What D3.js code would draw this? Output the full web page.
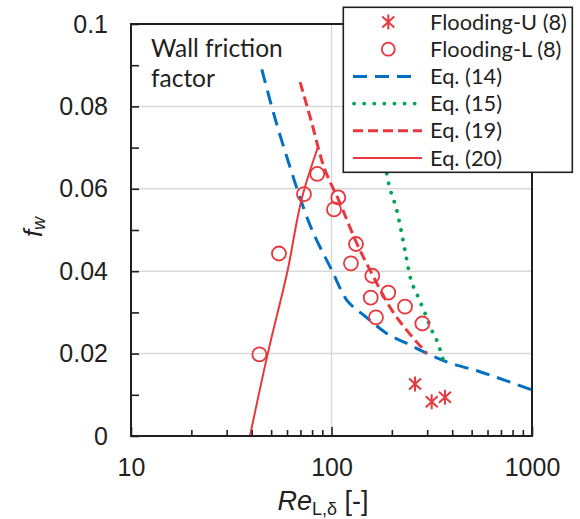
<!DOCTYPE html>
<html><head><meta charset="utf-8">
<script src="https://cdn.jsdelivr.net/npm/d3@7"></script>
<style>body{margin:0;background:#fff}svg{display:block}</style>
</head><body>
<svg id="c" width="580" height="519"></svg>
<script>
// ---- data ----
const floodU_x = [261, 316, 368];
const floodU_y = [0.0126, 0.0083, 0.0094];
const floodL_x = [43.7, 54.7, 72.9, 84.9, 108.1, 102.9, 132.5, 125.0, 159.8, 191.9, 156.9, 232.6, 166.7, 283.9];
const floodL_y = [0.0198, 0.0443, 0.0587, 0.0636, 0.0579, 0.0550, 0.0466, 0.0419, 0.0389, 0.0348, 0.0336, 0.0314, 0.0288, 0.0273];
const eq14_x = [44.9, 53.3, 59.8, 78.1, 100.2, 119.1, 126.5, 144.1, 188.5, 246.4, 310, 375.5, 550, 806.6, 1000];
const eq14_y = [0.0890, 0.0757, 0.0678, 0.0512, 0.0403, 0.0330, 0.0316, 0.0294, 0.0249, 0.0221, 0.0197, 0.0180, 0.0156, 0.0128, 0.0112];
const eq15_x = [185, 192, 211.3, 232.6, 246.4, 268, 292.6, 316, 337, 361];
const eq15_y = [0.0660, 0.0617, 0.0549, 0.0451, 0.0387, 0.0342, 0.0298, 0.0257, 0.0229, 0.0184];
const eq19_x = [69.7, 79.6, 89.3, 110.3, 133.6, 161.6, 199.6, 237.1, 298.5];
const eq19_y = [0.0859, 0.0761, 0.0670, 0.0565, 0.0468, 0.0387, 0.0306, 0.0257, 0.0201];
const eq20_x = [39.2, 48.1, 60.3, 72.3, 85.7];
const eq20_y = [0, 0.02, 0.04, 0.059, 0.0702];
const xTickLabels = [10, 100, 1000];
const yTickLabels = [0, 0.02, 0.04, 0.06, 0.08, 0.1];
const legendLabels = ["Flooding-U (8)", "Flooding-L (8)", "Eq. (14)", "Eq. (15)", "Eq. (19)", "Eq. (20)"];

// ---- layout ----
const L = 131, R = 532, T = 24, B = 436;
const RED = "#E8383D", BLUE = "#0070C0", GREEN = "#00A550", AX = "#231F20";
const svg = d3.select("#c");
const x = d3.scaleLog().domain([10, 1000]).range([L, R]);
const y = d3.scaleLinear().domain([0, 0.1]).range([B, T]);
const zip = (a, b) => a.map((v, i) => [v, b[i]]);

// grid
const g = svg.append("g");
g.selectAll("line.h").data([0.02, 0.04, 0.06, 0.08]).join("line")
  .attr("x1", L).attr("x2", R).attr("y1", d => y(d)).attr("y2", d => y(d))
  .attr("stroke", "#D9D9D9").attr("stroke-width", 1.5);
g.selectAll("line.v").data([100]).join("line")
  .attr("x1", d => x(d)).attr("x2", d => x(d)).attr("y1", T).attr("y2", B)
  .attr("stroke", "#D9D9D9").attr("stroke-width", 1.5);

// lines
const line = d3.line().x(d => x(d[0])).y(d => y(d[1])).curve(d3.curveMonotoneX);
svg.append("path").attr("d", line(zip(eq14_x, eq14_y))).attr("fill", "none")
  .attr("stroke", BLUE).attr("stroke-width", 3).attr("stroke-dasharray", "14 8");
svg.append("path").attr("d", line(zip(eq15_x, eq15_y))).attr("fill", "none")
  .attr("stroke", GREEN).attr("stroke-width", 3.8).attr("stroke-linecap", "round").attr("stroke-dasharray", "0.1 9.6");
svg.append("path").attr("d", line(zip(eq19_x, eq19_y))).attr("fill", "none")
  .attr("stroke", RED).attr("stroke-width", 3).attr("stroke-dasharray", "10 5");
svg.append("path").attr("d", d3.line().x(d => x(d[0])).y(d => y(d[1])).curve(d3.curveMonotoneY)(zip(eq20_x, eq20_y)))
  .attr("fill", "none").attr("stroke", RED).attr("stroke-width", 2);

// markers
svg.append("g").selectAll("circle").data(zip(floodL_x, floodL_y)).join("circle")
  .attr("cx", d => x(d[0])).attr("cy", d => y(d[1])).attr("r", 7)
  .attr("fill", "none").attr("stroke", RED).attr("stroke-width", 1.8);
const star = (sel) => sel.append("path")
  .attr("d", "M0,-7.5V7.5M-6,-5.5L6,5.5M-6,5.5L6,-5.5")
  .attr("stroke", RED).attr("stroke-width", 2).attr("fill", "none");
svg.append("g").selectAll("g").data(zip(floodU_x, floodU_y)).join("g")
  .attr("transform", d => `translate(${x(d[0])},${y(d[1])})`).call(star);

// axes
const minorX = [20,30,40,50,60,70,80,90,200,300,400,500,600,700,800,900];
const yAxis = svg.append("g").attr("transform", `translate(${L},0)`)
  .call(d3.axisLeft(y).tickValues(yTickLabels).tickSize(-8).tickPadding(23).tickFormat(d3.format("")));
const yMinor = svg.append("g").attr("transform", `translate(${L},0)`)
  .call(d3.axisLeft(y).tickValues([0.01,0.03,0.05,0.07,0.09]).tickSize(-8).tickFormat(""));
const xAxis = svg.append("g").attr("transform", `translate(0,${B})`)
  .call(d3.axisBottom(x).tickValues(xTickLabels).tickSize(-9).tickPadding(22).tickFormat(d3.format("")));
const xMinor = svg.append("g").attr("transform", `translate(0,${B})`)
  .call(d3.axisBottom(x).tickValues(minorX).tickSize(-6).tickFormat(""));
[yAxis, yMinor, xAxis, xMinor].forEach(a => {
  a.select(".domain").remove();
  a.selectAll("line").attr("stroke", AX).attr("stroke-width", 1.6);
  a.selectAll("text").attr("font-family", "Liberation Sans, Arial, sans-serif").attr("font-size", 25).attr("fill", AX);
});
// frame
svg.append("rect").attr("x", L).attr("y", T).attr("width", R - L).attr("height", B - T)
  .attr("fill", "none").attr("stroke", AX).attr("stroke-width", 2);

// axis titles
const yt = svg.append("text").attr("transform", "translate(42,227) rotate(-90)")
  .attr("text-anchor", "middle").attr("font-family", "Liberation Sans, Arial, sans-serif").attr("fill", AX);
yt.append("tspan").attr("font-size", 26).attr("font-style", "italic").text("f");
yt.append("tspan").attr("font-size", 18).attr("font-style", "italic").attr("dy", 3).text("w");

const xt = svg.append("text").attr("x", 323).attr("y", 510)
  .attr("text-anchor", "middle").attr("font-family", "Liberation Sans, Arial, sans-serif").attr("fill", AX);
xt.append("tspan").attr("font-size", 27).attr("font-style", "italic").text("Re");
xt.append("tspan").attr("font-size", 18).attr("dy", 5).text("L,δ");
xt.append("tspan").attr("font-size", 27).attr("dy", -5).text(" [-]");

// annotation
const ann = svg.append("text").attr("font-family", "Lato, sans-serif").attr("font-size", 24.5).attr("fill", AX);
ann.append("tspan").attr("x", 151).attr("y", 57).text("Wall friction");
ann.append("tspan").attr("x", 151).attr("y", 87).text("factor");

// legend
const lg = svg.append("g");
lg.append("rect").attr("x", 343.3).attr("y", 7.3).attr("width", 229).attr("height", 165)
  .attr("fill", "#fff").attr("stroke", AX).attr("stroke-width", 1.6);
const rowY = i => 22 + i * 27.2;
lg.selectAll("text").data(legendLabels).join("text")
  .attr("x", 430).attr("y", (d, i) => rowY(i) + 7.5)
  .attr("font-family", "Lato, sans-serif").attr("font-size", 21.8).attr("fill", AX).text(d => d);
lg.append("g").attr("transform", `translate(388.3,${rowY(0)})`).call(star);
lg.append("circle").attr("cx", 388.3).attr("cy", rowY(1)).attr("r", 6.5)
  .attr("fill", "none").attr("stroke", RED).attr("stroke-width", 1.8);
lg.append("line").attr("x1", 353).attr("x2", 411).attr("y1", rowY(2)).attr("y2", rowY(2))
  .attr("stroke", BLUE).attr("stroke-width", 3).attr("stroke-dasharray", "14 8");
lg.append("line").attr("x1", 354).attr("x2", 416).attr("y1", rowY(3)).attr("y2", rowY(3))
  .attr("stroke", GREEN).attr("stroke-width", 3.8).attr("stroke-linecap", "round").attr("stroke-dasharray", "0.1 10");
lg.append("line").attr("x1", 353).attr("x2", 422).attr("y1", rowY(4)).attr("y2", rowY(4))
  .attr("stroke", RED).attr("stroke-width", 3).attr("stroke-dasharray", "10 5");
lg.append("line").attr("x1", 353).attr("x2", 422).attr("y1", rowY(5)).attr("y2", rowY(5))
  .attr("stroke", RED).attr("stroke-width", 2);
</script>
</body></html>
